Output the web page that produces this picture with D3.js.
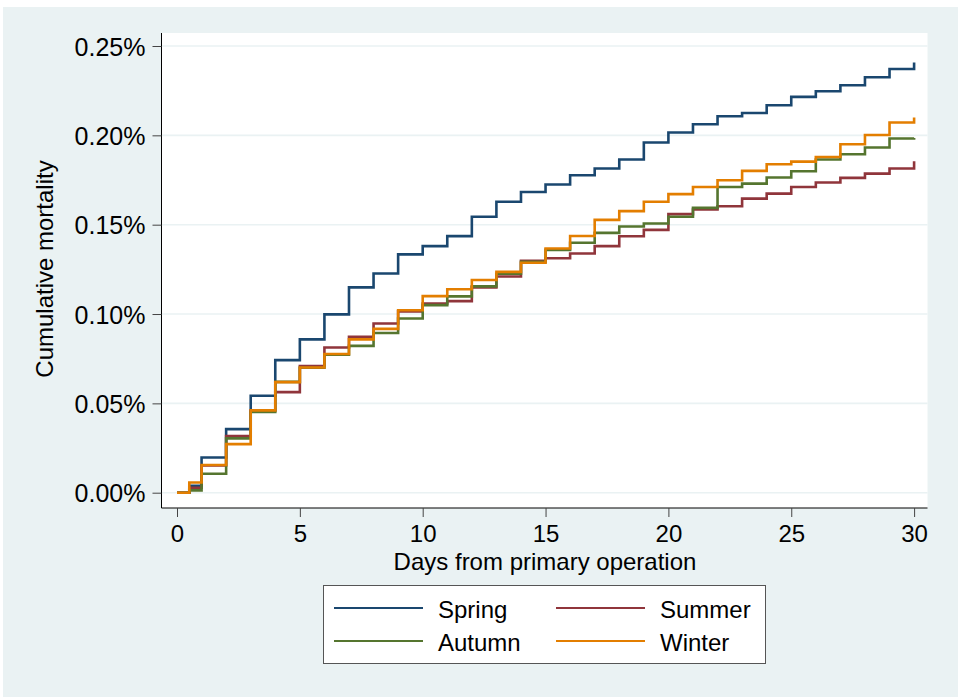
<!DOCTYPE html>
<html>
<head>
<meta charset="utf-8">
<script src="https://cdn.jsdelivr.net/npm/d3@7"></script>
<style>
  body { margin: 0; background: #fff; }
  text { font-family: "Liberation Sans", Arial, sans-serif; fill: #000; }
</style>
</head>
<body>
<script>
// data (cumulative mortality in %, step-after at each time point)
const days = [0, 0.5, 1, 2, 3, 4, 5, 6, 7, 8, 9, 10, 11, 12, 13, 14, 15, 16, 17, 18, 19, 20,
              21, 22, 23, 24, 25, 26, 27, 28, 29, 30];
const spring = [0, 0.0039, 0.0197, 0.0356, 0.0543, 0.0742, 0.0858, 0.0998, 0.1149, 0.1227, 0.1334, 0.138,
                0.1436, 0.1544, 0.1628, 0.1683, 0.1725, 0.1777, 0.1814, 0.1865, 0.196, 0.2016,
                0.2062, 0.2107, 0.2125, 0.2168, 0.2215, 0.2247, 0.228, 0.2325, 0.2371, 0.2407];
const summer = [0, 0.0028, 0.0152, 0.0317, 0.046, 0.0563, 0.0709, 0.0813, 0.0872, 0.0947, 0.1015, 0.1059,
                0.1072, 0.1149, 0.121, 0.1298, 0.1312, 0.1339, 0.138, 0.1435, 0.1471, 0.1559,
                0.1585, 0.1603, 0.1646, 0.1674, 0.1711, 0.1736, 0.1762, 0.1786, 0.1814, 0.1855];
const autumn = [0, 0.0013, 0.0106, 0.0304, 0.0452, 0.062, 0.0699, 0.0772, 0.0822, 0.0894, 0.0975, 0.105,
                0.1099, 0.1155, 0.1225, 0.1292, 0.1359, 0.1399, 0.1454, 0.149, 0.1507, 0.1544,
                0.1594, 0.1711, 0.173, 0.1764, 0.1799, 0.1865, 0.1894, 0.1932, 0.1982, 0.1985];
const winter = [0, 0.0057, 0.0155, 0.0272, 0.0461, 0.0619, 0.0701, 0.0776, 0.0858, 0.0917, 0.1021, 0.11,
                0.1139, 0.119, 0.1236, 0.1287, 0.1367, 0.1437, 0.1527, 0.1576, 0.1628, 0.1671,
                0.1711, 0.1749, 0.1801, 0.1838, 0.1853, 0.1879, 0.195, 0.2002, 0.2072, 0.21];

const seriesNames = ["Spring", "Summer", "Autumn", "Winter"];
const seriesValues = [spring, summer, autumn, winter];
const seriesColors = ["#1a476f", "#90353b", "#55752f", "#e37e00"];

const xTicks = [0, 5, 10, 15, 20, 25, 30];
const yTicks = [0, 0.05, 0.10, 0.15, 0.20, 0.25];

// dimensions
const W = 963, H = 697;
const plot = {left: 161.5, right: 927.5, top: 33, bottom: 508};

const svg = d3.select("body").append("svg")
    .attr("width", W)
    .attr("height", H);

// graph region background
svg.append("rect")
    .attr("x", 3).attr("y", 7)
    .attr("width", 955).attr("height", H - 7)
    .attr("fill", "#eaf2f3");

// plot region
svg.append("rect")
    .attr("x", plot.left).attr("y", plot.top)
    .attr("width", plot.right - plot.left)
    .attr("height", plot.bottom - plot.top)
    .attr("fill", "#fff");

const x = d3.scaleLinear().domain([0, 30]).range([177, 914.1]);
const y = d3.scaleLinear().domain([0, 0.25]).range([492.7, 46]);

// gridlines
svg.append("g").selectAll("line")
    .data(yTicks)
    .enter().append("line")
    .attr("x1", plot.left).attr("x2", plot.right)
    .attr("y1", d => y(d)).attr("y2", d => y(d))
    .attr("stroke", "#eaf2f3")
    .attr("stroke-width", 1.6);

// y axis
const yAxis = d3.axisLeft(y).tickValues(yTicks)
    .tickFormat(d => d.toFixed(2) + "%")
    .tickSize(9).tickPadding(7);
const gy = svg.append("g")
    .attr("transform", "translate(" + plot.left + ",0)")
    .call(yAxis);
gy.select(".domain").attr("d", "M0," + plot.top + "V" + plot.bottom).attr("stroke", "#000");
gy.selectAll(".tick line").attr("stroke", "#444");
gy.selectAll(".tick text")
    .style("font-size", "25px")
    .attr("dy", "0.36em");

// x axis
const xAxis = d3.axisBottom(x).tickValues(xTicks).tickSize(9).tickPadding(6);
const gx = svg.append("g")
    .attr("transform", "translate(0," + plot.bottom + ")")
    .call(xAxis);
gx.select(".domain").attr("d", "M" + plot.left + ",0H" + plot.right).attr("stroke", "#000");
gx.selectAll(".tick line").attr("stroke", "#444");
gx.selectAll(".tick text")
    .style("font-size", "24px")
    .attr("dy", "0.8em");

// axis titles
svg.append("text")
    .attr("x", 545).attr("y", 569.5)
    .attr("text-anchor", "middle")
    .style("font-size", "24px")
    .text("Days from primary operation");

svg.append("text")
    .attr("transform", "translate(53,269) rotate(-90)")
    .attr("text-anchor", "middle")
    .style("font-size", "24px")
    .text("Cumulative mortality");

// step lines
const stepLine = d3.line()
    .x(d => x(d[0]))
    .y(d => y(d[1]))
    .curve(d3.curveStepAfter);

seriesValues.forEach(function(vals, i) {
    const pts = days.map((d, j) => [d, vals[j]]);
    svg.append("path")
        .datum(pts)
        .attr("fill", "none")
        .attr("stroke", seriesColors[i])
        .attr("stroke-width", 2.6)
        .attr("d", stepLine);
});

// legend
const legend = svg.append("g");
legend.append("rect")
    .attr("x", 323.5).attr("y", 585.5)
    .attr("width", 442).attr("height", 78)
    .attr("fill", "#fff")
    .attr("stroke", "#555")
    .attr("stroke-width", 1);

const legendPos = [
    {lx: 334, ly: 608},
    {lx: 556, ly: 608},
    {lx: 334, ly: 641},
    {lx: 556, ly: 641}
];
seriesNames.forEach(function(name, i) {
    const p = legendPos[i];
    legend.append("line")
        .attr("x1", p.lx).attr("x2", p.lx + 89)
        .attr("y1", p.ly).attr("y2", p.ly)
        .attr("stroke", seriesColors[i])
        .attr("stroke-width", 2.2);
    legend.append("text")
        .attr("x", p.lx + 104)
        .attr("y", p.ly + 10)
        .style("font-size", "24px")
        .text(name);
});
</script>
</body>
</html>
